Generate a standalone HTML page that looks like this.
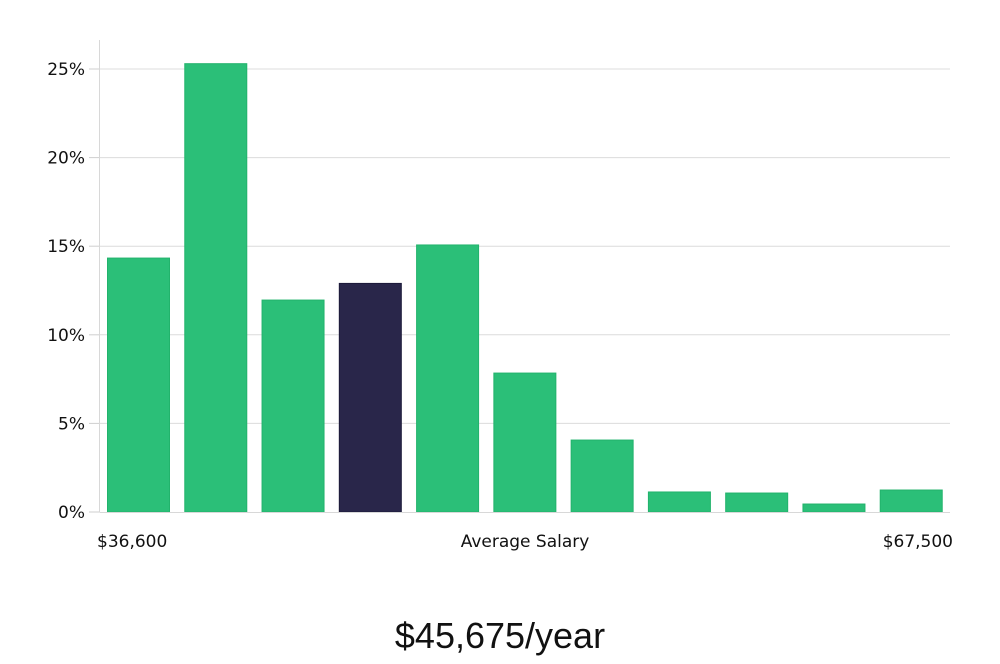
<!DOCTYPE html>
<html><head><meta charset="utf-8"><style>
body{margin:0;background:#fff;width:1000px;height:660px;overflow:hidden;font-family:"DejaVu Sans","Liberation Sans",sans-serif;}
</style></head><body>
<svg id="chart" width="1000" height="660" xmlns="http://www.w3.org/2000/svg"></svg>
<script>
const values = [14.33, 25.3, 11.96, 12.9, 15.07, 7.84, 4.06, 1.13, 1.07, 0.45, 1.24];
const highlightIndex = [3];
const yTicks = [0, 5, 10, 15, 20, 25];
const yTickLabels = ["0%", "5%", "10%", "15%", "20%", "25%"];
const xLabels = ["$36,600", "Average Salary", "$67,500"];
const salaryText = "$45,675/year";

const NS = "http://www.w3.org/2000/svg";
const svg = document.getElementById("chart");
const x0 = 100, x1 = 950, yBase = 512, pxPerUnit = (512 - 69) / 25;
const band = (x1 - x0) / values.length;
const yScale = v => yBase - v * pxPerUnit;
const xScale = i => x0 + i * band;
function mk(tag, attrs, text) {
  const e = document.createElementNS(NS, tag);
  for (const k in attrs) e.setAttribute(k, attrs[k]);
  if (text !== undefined) e.textContent = text;
  svg.appendChild(e);
  return e;
}
yTicks.forEach((t, i) => {
  const y = yScale(t);
  if (t > 0) {
    const g = mk("line", {x1: x0, x2: x1, y1: y, y2: y, stroke: "#dcdcdc", "stroke-width": 1});
    
    
  }
  const tk = mk("line", {x1: 89, x2: x0, y1: y, y2: y, stroke: "#cfcfcf", "stroke-width": 1});
  
  
  const lb = mk("text", {x: 85, y: y + 6, "text-anchor": "end", "font-size": 17, fill: "#111"}, yTickLabels[i]);
  
  
});
const ax = mk("line", {x1: 99.5, x2: 99.5, y1: 40, y2: yBase, stroke: "#d8d8d8", "stroke-width": 1});


values.forEach((v, i) => {
  const hl = highlightIndex.includes(i);
  const y = yScale(v);
  const r = mk("rect", {x: xScale(i) + 7.5, y: y, width: 62, height: yBase - y,
    fill: hl ? "#29264a" : "#2bbf78", stroke: hl ? "#1c1a3a" : "#22b36c", "stroke-width": 1});
  
  
});
const base = mk("line", {x1: x0, x2: x1, y1: yBase + 0.5, y2: yBase + 0.5, stroke: "#d8d8d8", "stroke-width": 1});


const xl = [[97, "start"], [525, "middle"], [953, "end"]];
xLabels.forEach((t, i) => {
  const e = mk("text", {x: xl[i][0], y: 547, "text-anchor": xl[i][1], "font-size": 17, fill: "#111"}, t);
  
  
});
const st = mk("text", {x: 500, y: 648, "text-anchor": "middle", "font-size": 36, fill: "#111", "font-family": "Liberation Sans, sans-serif"}, salaryText);


</script>
</body></html>
